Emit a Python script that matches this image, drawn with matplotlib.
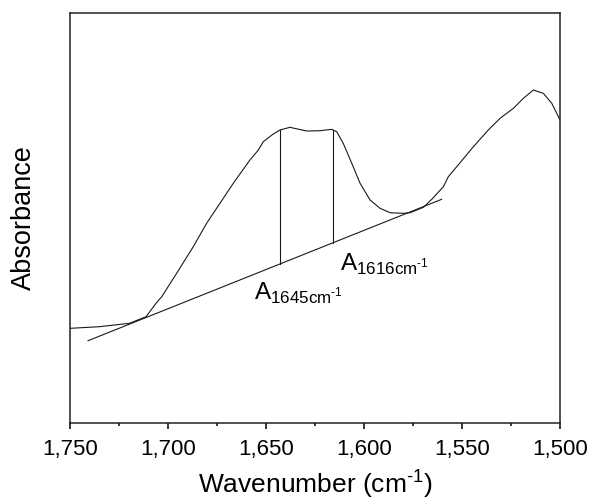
import numpy as np
import matplotlib
matplotlib.use('Agg')
import matplotlib.pyplot as plt
from matplotlib.ticker import MultipleLocator, FuncFormatter

plt.rcParams['font.family'] = ['Liberation Sans', 'DejaVu Sans']
plt.rcParams['mathtext.fontset'] = 'custom'
plt.rcParams['mathtext.rm'] = 'Liberation Sans'

# FTIR spectrum (wavenumber in cm-1, absorbance in arbitrary units)
wavenumber = [1750.0, 1735.1, 1719.7, 1711.2, 1706.1, 1703.2, 1695.6, 1687.1, 1680.3,
              1673.5, 1666.7, 1658.2, 1653.9, 1651.4, 1646.3, 1642.9, 1637.8, 1629.2,
              1622.5, 1616.5, 1613.9, 1610.6, 1605.5, 1602.0, 1596.9, 1591.8, 1586.7,
              1580.0, 1576.5, 1569.7, 1565.3, 1559.5, 1557.0, 1552.7, 1544.2, 1536.6,
              1530.6, 1523.8, 1518.7, 1513.6, 1508.5, 1504.2, 1500.0]
absorbance = [0.950, 0.966, 1.000, 1.066, 1.200, 1.266, 1.500, 1.766, 2.000,
              2.200, 2.400, 2.633, 2.733, 2.816, 2.893, 2.933, 2.960, 2.923,
              2.926, 2.940, 2.916, 2.800, 2.566, 2.400, 2.233, 2.150, 2.106,
              2.100, 2.106, 2.160, 2.243, 2.366, 2.466, 2.566, 2.766, 2.933,
              3.050, 3.150, 3.250, 3.333, 3.300, 3.200, 3.033]

# straight baseline drawn under the amide I band
baseline_x = [1740.8, 1560.4]
baseline_y = [0.826, 2.240]

# band positions marked with vertical lines
band_pos = [1643.0, 1616.0]
band_labels = ['A$_{\\mathregular{1645cm^{\u20101}}}$', 'A$_{\\mathregular{1616cm^{\u20101}}}$']
label_pos = [(1656.1, 1.240), (1612.2, 1.526)]

fig = plt.figure(figsize=(5.9, 5.03), dpi=100)
ax = fig.add_axes([0.1186, 0.1584, 0.8306, 0.8167])

col = '#1a1a1a'
ax.plot(wavenumber, absorbance, color=col, lw=0.8)
ax.plot(baseline_x, baseline_y, color=col, lw=0.8)

wx = np.array(wavenumber)[::-1]
wy = np.array(absorbance)[::-1]
for b in band_pos:
    top = np.interp(b, wx, wy)
    bot = np.interp(b, baseline_x[::-1], baseline_y[::-1])
    ax.plot([b, b], [bot, top], color=col, lw=0.8)

for lab, (lx, ly) in zip(band_labels, label_pos):
    ax.text(lx, ly, lab, fontsize=17.5, ha='left', va='baseline', color='black')

ax.set_xlim(1750, 1500)
ax.set_ylim(0, 4.108)
ax.xaxis.set_major_locator(MultipleLocator(50))
ax.xaxis.set_minor_locator(MultipleLocator(25))
ax.xaxis.set_major_formatter(FuncFormatter(lambda v, p: '{:,.0f}'.format(v)))
ax.tick_params(axis='x', which='major', direction='out', length=4.5, width=1.1,
               labelsize=16, pad=7)
ax.tick_params(axis='x', which='minor', direction='out', length=2.3, width=1.1)
ax.set_yticks([])
for s in ax.spines.values():
    s.set_linewidth(1.1)
    s.set_color('#222222')

ax.set_xlabel('Wavenumber (cm$^{\\mathregular{\u20101}}$)', fontsize=19, labelpad=5)
ax.set_ylabel('Absorbance', fontsize=19.5, labelpad=24)

fig.savefig('out.png', dpi=100)
